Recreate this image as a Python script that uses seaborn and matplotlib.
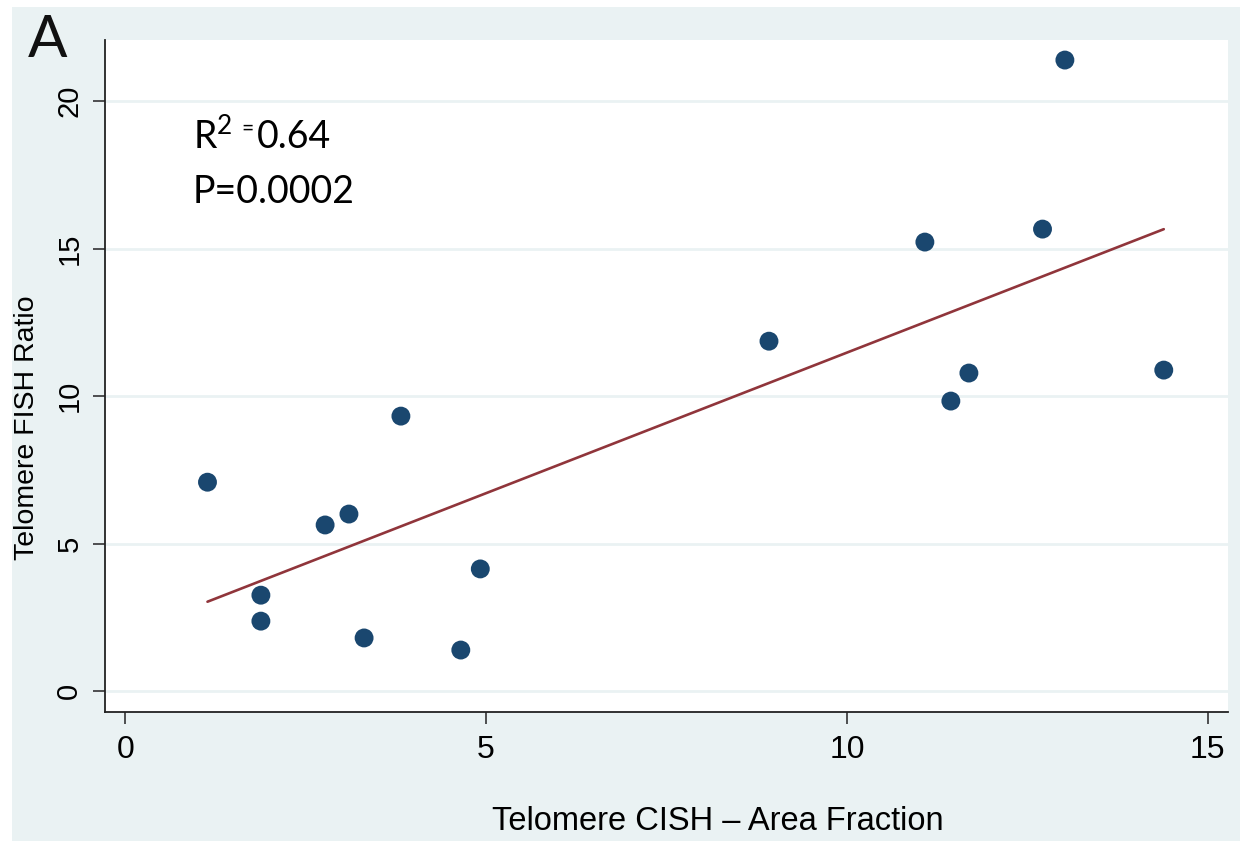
import numpy as np
import pandas as pd
import matplotlib
matplotlib.use("Agg")
import matplotlib.pyplot as plt
import seaborn as sns
from matplotlib.patches import Rectangle

# ---- data ----
cish_area_fraction = [1.14, 1.88, 1.88, 2.77, 3.10, 3.31, 3.82, 4.65, 4.92,
                      8.92, 11.08, 11.44, 11.69, 12.71, 13.02, 14.39]
fish_ratio = [7.08, 3.25, 2.37, 5.63, 6.00, 1.80, 9.32, 1.39, 4.14,
              11.86, 15.22, 9.83, 10.78, 15.66, 21.39, 10.88]
x_ticks = [0, 5, 10, 15]
y_ticks = [0, 5, 10, 15, 20]
x_label = "Telomere CISH \u2013 Area Fraction"
y_label = "Telomere FISH Ratio"
panel_label = "A"
r2_value = "0.64"
p_text = "P=0.0002"

df = pd.DataFrame({"x": cish_area_fraction, "y": fish_ratio})

BG = "#eaf2f3"
NAVY = "#1a476f"
MAROON = "#90353b"

sns.set_theme(style="white")
plt.rcParams["font.family"] = ["Liberation Sans", "DejaVu Sans"]
plt.rcParams["mathtext.fontset"] = "custom"
plt.rcParams["mathtext.rm"] = "Lato"
plt.rcParams["mathtext.it"] = "Lato"
plt.rcParams["mathtext.bf"] = "Lato:bold"
plt.rcParams["text.color"] = "black"

W, H = 1246, 841
fig = plt.figure(figsize=(W / 100, H / 100), dpi=100, facecolor="white")
fig.patches.append(Rectangle((12 / W, 0), (1240 - 12) / W, (H - 7) / H,
                             transform=fig.transFigure, facecolor=BG,
                             edgecolor="none", zorder=-10))

ax = fig.add_axes([105 / W, 1 - 712 / H, (1228 - 105) / W, (712 - 40) / H])
ax.set_facecolor("white")

sns.regplot(data=df, x="x", y="y", ax=ax, ci=None,
            scatter_kws=dict(s=185, color=NAVY, edgecolor="none", zorder=3, alpha=1),
            line_kws=dict(color=MAROON, lw=1.9, zorder=2))

ax.set_xlim(-0.28, 15.28)
ax.set_ylim(-0.71, 22.07)
ax.set_xticks(x_ticks)
ax.set_yticks(y_ticks)
ax.yaxis.grid(True, color=BG, lw=2.0, zorder=0)
ax.xaxis.grid(False)
ax.set_axisbelow(True)

for s in ["top", "right"]:
    ax.spines[s].set_visible(False)
for s in ["left", "bottom"]:
    ax.spines[s].set_color("#222222")
    ax.spines[s].set_linewidth(1.3)

ax.tick_params(axis="both", direction="out", length=8.6, width=1.2, color="#333333",
               labelcolor="black", bottom=True, left=True)
ax.tick_params(axis="x", pad=8, labelsize=23)
ax.tick_params(axis="y", pad=7, labelsize=21)
for lab in ax.get_yticklabels():
    lab.set_rotation(90)
    lab.set_va("center")

ax.set_xlabel(x_label, fontsize=23.5, color="black")
ax.set_ylabel(y_label, fontsize=20.5, color="black")
ax.xaxis.set_label_coords((718 - 105) / (1228 - 105), (712 - 822) / (712 - 40))
ax.yaxis.set_label_coords((27 - 105) / (1228 - 105), (712 - 428) / (712 - 40))
ax.xaxis.label.set_va("center")
ax.yaxis.label.set_va("center")

# R^2 annotation: "R", superscript "2", small raised "=", then value
anchor = (0.94, 18.4)
ax.annotate(r"R$^{\mathrm{2}}$", xy=anchor, xytext=(0, 0), textcoords="offset points",
            fontsize=27, family="Lato", va="baseline", ha="left", color="black")
ax.annotate("=", xy=anchor, xytext=(34.5, 10), textcoords="offset points",
            fontsize=15, family="Lato", va="baseline", ha="left", color="black")
ax.annotate(r2_value, xy=anchor, xytext=(46, 0), textcoords="offset points",
            fontsize=27, family="Lato", va="baseline", ha="left", color="black")
ax.text(0.94, 16.55, p_text, fontsize=27, family="Lato", va="baseline", ha="left",
        color="black")

fig.text(28 / W, 1 - 57 / H, panel_label, fontsize=42, family="Lato",
         va="baseline", ha="left", color="#111111")

fig.savefig("out.png", dpi=100, facecolor=fig.get_facecolor())
